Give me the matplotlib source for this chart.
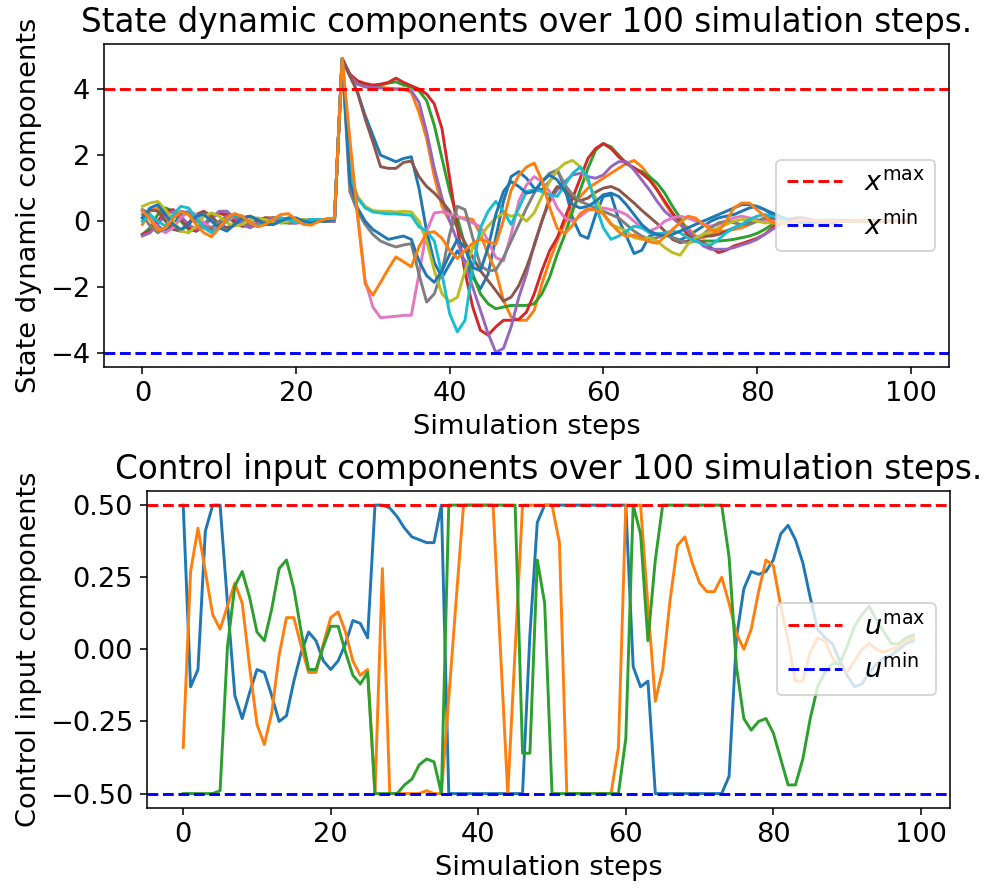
import matplotlib
matplotlib.use("Agg")
import matplotlib.pyplot as plt
import numpy as np

plt.rcParams["font.size"] = 14

# ---- state trajectories, steps 0..100 (settling part 0..25, then the kick at 26) ----
x_blue_a = [0.35, 0.2, -0.15, -0.3, -0.1, 0.2, 0.3, 0.1, -0.15, -0.25, -0.1, 0.1, 0.2, 0.1, -0.05, -0.15, -0.05, 0.1, 0.1, 0.0, -0.05, 0.0, 0.05, 0.05, 0.0, 0.0,
            4.92, 4.45, 3.9, 3.2, 2.6, 2.0, 1.9, 1.8, 1.9, 1.95,
            1.0, -0.3, -1.25, -1.7, -1.3, -0.9, -1.2, -1.7, -2.05, -1.6,
            -0.5, 0.6, 1.35, 1.5, 1.3, 1.0, 0.95, 1.2, 1.55, 1.0,
            0.1, -0.42, -0.52, 0.2, 0.75, 0.8, 0.05, -0.45, -0.98, -0.88,
            -0.45, -0.38, -0.4, -0.5, -0.57, -0.45, -0.3, -0.15, 0.0, 0.1,
            0.15, 0.2, 0.3, 0.4, 0.45, 0.35, 0.2, 0.1, 0.05, 0.0,
            -0.05, -0.05, 0.0, 0.03, 0.03, 0.0, 0.0, 0.0, 0.0, 0.0,
            0.0, 0.0, 0.0, 0.0, 0.0]
x_orange_a = [-0.1, 0.3, 0.4, 0.1, -0.2, -0.3, -0.1, 0.2, 0.3, 0.1, -0.1, -0.2, -0.1, 0.1, 0.15, 0.05, -0.1, -0.1, 0.0, 0.1, 0.05, -0.05, -0.05, 0.0, 0.05, 0.0,
              4.92, 4.4, 4.15, 4.07, 4.05, 4.05, 4.03, 4.0, 4.0, 3.9,
              3.3, 2.5, 1.35, 0.45, 0.0, 0.1, 0.1, 0.05, -0.4, -1.0,
              -1.5, -2.4, -2.9, -3.0, -3.0, -2.7, -1.9, -1.2, -0.6, -0.05,
              0.4, 0.75, 1.0, 1.15, 1.3, 1.45, 1.6, 1.75, 1.84, 1.65,
              1.35, 0.95, 0.55, 0.2, 0.0, -0.2, -0.45, -0.5, -0.4, -0.3,
              -0.3, -0.25, -0.2, -0.1, 0.0, 0.05, 0.05, 0.0, -0.03, -0.03,
              0.0, 0.02, 0.02, 0.0, 0.0, 0.0, 0.0, 0.0, 0.0, 0.0,
              0.0, 0.0, 0.0, 0.0, 0.0]
x_green = [-0.4, -0.2, 0.2, 0.4, 0.3, 0.0, -0.25, -0.3, -0.1, 0.15, 0.25, 0.15, -0.05, -0.15, -0.1, 0.05, 0.1, 0.05, -0.05, -0.05, 0.0, 0.05, 0.0, 0.0, 0.0, 0.05,
           4.92, 4.45, 4.22, 4.15, 4.1, 4.12, 4.18, 4.22, 4.12, 4.05,
           3.95, 3.65, 2.9, 1.9, 0.9, 0.1, -0.75, -1.6, -2.2, -2.5,
           -2.65, -2.6, -2.55, -2.55, -2.55, -2.5, -2.2, -1.7, -1.0, -0.4,
           0.3, 0.95, 1.6, 2.15, 2.35, 2.25, 2.0, 1.75, 1.6, 1.5,
           1.35, 1.15, 0.85, 0.45, 0.1, -0.4, -0.6, -0.6, -0.6, -0.6,
           -0.58, -0.55, -0.5, -0.45, -0.37, -0.25, -0.1, 0.0, 0.05, 0.05,
           0.05, 0.0, -0.03, -0.03, 0.0, 0.02, 0.02, 0.0, 0.0, 0.0,
           0.0, 0.0, 0.0, 0.0, 0.0]
x_red = [-0.4, -0.3, 0.0, 0.3, 0.35, 0.1, -0.2, -0.3, -0.15, 0.1, 0.25, 0.2, 0.0, -0.15, -0.15, 0.0, 0.1, 0.1, 0.0, -0.05, -0.05, 0.0, 0.05, 0.05, 0.0, 0.0,
         4.92, 4.45, 4.25, 4.17, 4.12, 4.15, 4.2, 4.33, 4.2, 4.1,
         4.0, 3.85, 3.55, 2.8, 1.3, -0.2, -1.55, -2.6, -3.3, -3.45,
         -3.2, -3.0, -3.0, -2.97, -2.75, -2.2, -1.5, -0.9, -0.5, 0.1,
         0.7, 1.3, 1.9, 2.2, 2.35, 2.2, 1.95, 1.75, 1.62, 1.45,
         1.25, 0.95, 0.6, 0.25, -0.05, -0.45, -0.55, -0.65, -0.8, -0.95,
         -0.88, -0.75, -0.68, -0.6, -0.52, -0.4, -0.2, -0.05, 0.05, 0.1,
         0.1, 0.05, 0.0, -0.05, -0.05, 0.0, 0.02, 0.03, 0.02, 0.0,
         0.0, 0.0, 0.0, 0.0, 0.0]
x_purple = [-0.45, -0.35, -0.1, 0.2, 0.3, 0.15, -0.1, -0.25, -0.15, 0.1, 0.3, 0.3, 0.1, -0.1, -0.2, -0.1, 0.05, 0.1, 0.05, -0.05, -0.05, 0.0, 0.05, 0.0, 0.0, 0.0,
            4.92, 4.4, 4.15, 4.07, 4.05, 4.03, 4.02, 4.0, 4.0, 3.95,
            3.6, 2.7, 1.6, 0.7, 0.0, -0.6, -1.3, -2.0, -2.7, -3.4,
            -3.97, -3.85, -3.2, -2.3, -1.6, -0.7, 0.0, 0.6, 0.95, 1.2,
            1.4, 1.45, 1.35, 1.3, 1.4, 1.65, 1.8, 1.8, 1.55, 1.25,
            0.95, 0.6, 0.3, 0.1, -0.1, -0.3, -0.5, -0.75, -0.85, -0.85,
            -0.85, -0.8, -0.72, -0.65, -0.55, -0.4, -0.25, -0.1, 0.0, 0.05,
            0.05, 0.05, 0.0, -0.03, -0.03, 0.0, 0.0, 0.02, 0.0, 0.0,
            0.0, 0.0, 0.0, 0.0, 0.0]
x_brown = [0.1, 0.35, 0.3, 0.0, -0.25, -0.3, -0.05, 0.2, 0.3, 0.15, -0.1, -0.2, -0.1, 0.1, 0.15, 0.05, -0.1, -0.1, 0.0, 0.05, 0.05, 0.0, -0.05, 0.0, 0.05, 0.0,
           4.92, 4.4, 3.9, 3.1, 2.4, 1.65, 1.6, 1.6, 1.78, 1.82,
           1.35, 1.05, 0.85, 0.6, 0.3, -0.2, -0.65, -1.1, -1.5, -1.8,
           -2.1, -2.42, -2.3, -1.95, -1.4, -0.75, 0.0, 0.7, 1.05, 0.95,
           0.7, 0.62, 0.7, 0.88, 1.0, 1.05, 0.95, 0.75, 0.55, 0.33,
           0.13, -0.07, -0.3, -0.55, -0.65, -0.6, -0.5, -0.45, -0.45, -0.4,
           -0.3, -0.2, -0.1, -0.05, 0.0, 0.05, 0.1, 0.05, 0.0, 0.0,
           0.0, 0.0, -0.02, -0.02, 0.0, 0.0, 0.0, 0.0, 0.0, 0.0,
           0.0, 0.0, 0.0, 0.0, 0.0]
x_pink = [0.3, 0.1, -0.2, -0.35, -0.2, 0.1, 0.3, 0.2, -0.05, -0.2, -0.2, 0.0, 0.15, 0.15, 0.0, -0.1, -0.1, 0.05, 0.1, 0.05, -0.05, -0.05, 0.0, 0.05, 0.0, 0.0,
          4.92, 2.2, 0.2, -1.8, -2.6, -2.92, -2.9, -2.88, -2.85, -2.85,
          -1.6, -0.3, 0.25, 0.28, 0.2, 0.15, 0.05, -0.05, -0.17, -0.6,
          -1.1, -1.2, -0.4, 0.6, 1.1, 1.35, 1.2, 0.9, 0.4, 0.1,
          0.0, 0.15, 0.33, 0.4, 0.4, 0.35, 0.3, 0.2, 0.0, -0.2,
          -0.3, -0.2, 0.0, 0.1, 0.15, 0.1, 0.0, -0.1, -0.15, -0.1,
          0.0, 0.1, 0.15, 0.1, 0.05, 0.0, 0.0, 0.0, 0.0, 0.0,
          0.0, 0.0, 0.0, 0.0, 0.0, 0.0, 0.0, 0.0, 0.0, 0.0,
          0.0, 0.0, 0.0, 0.0, 0.0]
x_gray = [0.2, -0.15, -0.35, -0.2, 0.1, 0.3, 0.25, 0.0, -0.2, -0.2, 0.0, 0.15, 0.15, 0.0, -0.1, -0.1, 0.0, 0.1, 0.05, -0.05, -0.05, 0.0, 0.05, 0.0, 0.0, 0.0,
          4.92, 0.9, 0.3, -0.1, -0.4, -0.6, -0.7, -0.78, -0.72, -0.68,
          -1.6, -2.45, -2.2, -1.5, -0.4, 0.45, 0.35, -0.5, -1.35, -1.5,
          -1.48, -1.1, -0.6, -0.1, 0.4, 0.85, 1.2, 1.45, 1.55, 1.1,
          0.8, 0.6, 0.5, 0.4, 0.3, 0.2, 0.1, -0.1, -0.3, -0.45,
          -0.55, -0.5, -0.4, -0.5, -0.6, -0.65, -0.6, -0.4, -0.2, -0.05,
          0.0, -0.05, -0.1, -0.1, 0.0, 0.1, 0.15, 0.1, 0.05, 0.0,
          0.0, 0.0, 0.0, 0.0, 0.0, 0.0, 0.0, 0.0, 0.0, 0.0,
          0.0, 0.0, 0.0, 0.0, 0.0]
x_olive = [0.45, 0.55, 0.6, 0.35, 0.0, -0.3, -0.35, -0.15, 0.15, 0.25, 0.15, -0.05, -0.15, -0.1, 0.05, 0.1, 0.05, -0.05, -0.05, 0.0, 0.05, 0.05, 0.0, 0.0, 0.0, 0.05,
           4.92, 1.45, 0.75, 0.45, 0.32, 0.3, 0.3, 0.28, 0.3, 0.28,
           0.0, -0.6, -1.5, -2.2, -2.44, -2.3, -1.5, -0.8, -0.45, -0.15,
           0.1, 0.25, 0.15, 0.2, 0.0, 0.25, 0.75, 1.2, 1.55, 1.75,
           1.84, 1.65, 1.2, 0.7, 0.2, -0.1, -0.2, -0.3, -0.5, -0.55,
           -0.5, -0.6, -0.8, -0.95, -1.03, -0.7, -0.5, -0.4, -0.3, -0.2,
           -0.1, 0.0, 0.05, 0.05, 0.0, -0.05, -0.05, 0.0, 0.0, 0.0,
           0.0, 0.0, 0.0, 0.0, 0.0, 0.0, 0.0, 0.0, 0.0, 0.0,
           0.0, 0.0, 0.0, 0.0, 0.0]
x_cyan = [0.0, 0.2, 0.0, -0.15, 0.2, 0.45, 0.4, 0.1, -0.2, -0.35, -0.2, 0.05, 0.2, 0.15, -0.05, -0.15, -0.1, 0.05, 0.1, 0.05, -0.05, 0.0, 0.05, 0.05, 0.05, 0.1,
          4.92, 1.5, 0.7, 0.4, 0.28, 0.25, 0.22, 0.22, 0.2, 0.18,
          -0.17, -0.3, -0.6, -1.6, -2.8, -3.35, -3.0, -1.4, -0.2, 0.3,
          0.6, 0.3, -0.1, 0.4, 0.9, 0.95, 0.9, 0.8, 0.75, 1.1,
          1.45, 1.64, 1.3, 0.5, -0.2, -0.55, -0.45, -0.3, -0.15, -0.2,
          -0.35, -0.4, -0.35, -0.3, -0.35, -0.5, -0.6, -0.7, -0.72, -0.55,
          -0.35, -0.2, -0.1, 0.05, 0.15, 0.2, 0.15, 0.1, 0.05, 0.0,
          0.0, 0.0, 0.0, 0.0, 0.0, 0.0, 0.0, 0.0, 0.0, 0.0,
          0.0, 0.0, 0.0, 0.0, 0.0]
x_blue_b = [0.1, 0.4, 0.5, 0.2, -0.1, -0.25, -0.1, 0.15, 0.2, 0.0, -0.2, -0.3, -0.1, 0.1, 0.15, 0.05, -0.1, -0.1, 0.0, 0.1, 0.1, 0.0, -0.05, 0.0, 0.0, 0.05,
            4.92, 1.2, 0.4, 0.0, -0.25, -0.4, -0.55, -0.5, -0.45, -0.55,
            -1.2, -1.65, -1.85, -1.5, -1.0, -0.55, -0.8, -1.4, -1.5, -0.8,
            0.2, 0.9, 1.2, 1.05, 0.85, 0.9, 1.2, 1.4, 1.25, 0.9,
            0.5, 0.4, 0.45, 0.6, 0.8, 0.85, 0.75, 0.5, 0.2, -0.1,
            -0.3, -0.4, -0.45, -0.4, -0.3, -0.2, -0.1, 0.0, 0.1, 0.2,
            0.3, 0.4, 0.5, 0.5, 0.45, 0.35, 0.25, 0.15, 0.05, 0.0,
            -0.05, -0.05, 0.0, 0.0, 0.02, 0.02, 0.0, 0.0, 0.0, 0.0,
            0.0, 0.0, 0.0, 0.0, 0.0]
x_orange_b = [0.33, 0.05, -0.27, -0.2, 0.1, 0.28, 0.2, -0.1, -0.35, -0.47, -0.2, 0.1, 0.23, 0.15, -0.05, -0.17, -0.1, 0.05, 0.2, 0.23, 0.05, -0.1, -0.12, 0.0, 0.08, 0.08,
              4.92, 2.5, 0.2, -1.9, -2.24, -1.85, -1.45, -1.08, -1.23, -1.38,
              -0.78, -0.35, -0.32, -0.52, -0.88, -1.13, -0.88, -0.67, -0.55, -0.62,
              -0.7, 0.03, 0.94, 1.39, 1.64, 1.76, 1.24, 0.43, -0.22, -0.37,
              -0.12, 0.23, 0.38, 0.33, 0.23, -0.07, -0.32, -0.47, -0.42, -0.52,
              -0.62, -0.67, -0.47, -0.25, -0.05, 0.15, 0.1, -0.1, -0.25, -0.3,
              0.0, 0.4, 0.55, 0.55, 0.35, 0.15, -0.05, -0.1, -0.05, 0.0,
              0.03, 0.03, 0.0, 0.0, 0.0, 0.0, 0.0, 0.0, 0.0, 0.0,
              0.0, 0.0, 0.0, 0.0, 0.0]

# ---- control inputs (steps 0..99) ----
u_blue = [0.5, -0.13, -0.07, 0.41, 0.5, 0.5, 0.16, -0.16, -0.24, -0.15, -0.07, -0.08, -0.16, -0.25, -0.23, -0.11, -0.01, 0.06, 0.03, -0.04,
          -0.07, -0.04, 0.02, 0.1, 0.09, 0.04, 0.5, 0.5, 0.49, 0.46, 0.42, 0.39, 0.38, 0.37, 0.37, 0.5, -0.5, -0.5, -0.5, -0.5,
          -0.5, -0.5, -0.5, -0.5, -0.5, -0.5, -0.5, 0.05, 0.44, 0.5, 0.5, 0.5, 0.5, 0.5, 0.5, 0.5, 0.5, 0.5, 0.5, 0.5,
          0.5, -0.06, -0.13, -0.11, -0.5, -0.5, -0.5, -0.5, -0.5, -0.5, -0.5, -0.5, -0.5, -0.5, -0.44, 0.04, 0.21, 0.27, 0.26, 0.27,
          0.31, 0.4, 0.43, 0.38, 0.3, 0.18, 0.07, 0.04, 0.02, -0.04, -0.09, -0.13, -0.12, -0.08, -0.05, -0.03, -0.02, 0.0, 0.02, 0.03]
u_orange = [-0.34, 0.27, 0.42, 0.27, 0.12, 0.07, 0.15, 0.23, 0.16, -0.06, -0.26, -0.33, -0.22, -0.02, 0.11, 0.11, 0.01, -0.08, -0.08, 0.02,
            0.11, 0.13, 0.06, -0.04, -0.09, -0.07, -0.5, 0.28, -0.5, -0.5, -0.5, -0.5, -0.5, -0.49, -0.5, -0.5, -0.17, 0.17, 0.5, 0.5,
            0.5, 0.5, 0.5, 0.0, -0.5, 0.0, 0.5, 0.5, 0.5, 0.5, 0.5, 0.37, -0.5, -0.5, -0.5, -0.5, -0.5, -0.5, -0.5, -0.34,
            0.5, 0.5, 0.5, 0.15, -0.18, -0.07, 0.17, 0.36, 0.39, 0.3, 0.23, 0.2, 0.2, 0.25, 0.16, 0.055, 0.0, 0.07, 0.2, 0.31,
            0.29, 0.15, 0.03, -0.11, -0.11, -0.01, 0.04, 0.03, -0.03, -0.06, -0.08, -0.04, 0.0, 0.02, 0.0, -0.01, 0.0, 0.01, 0.03, 0.04]
u_green = [-0.5, -0.5, -0.5, -0.5, -0.5, -0.49, 0.01, 0.22, 0.27, 0.18, 0.06, 0.03, 0.14, 0.28, 0.31, 0.21, 0.06, -0.07, -0.07, 0.01,
           0.08, 0.08, -0.01, -0.09, -0.12, -0.08, -0.5, -0.5, -0.5, -0.5, -0.47, -0.45, -0.4, -0.38, -0.39, -0.5, 0.5, 0.5, 0.5, 0.5,
           0.5, 0.5, 0.5, 0.5, 0.5, 0.5, -0.36, -0.36, 0.31, 0.16, -0.5, -0.5, -0.5, -0.5, -0.5, -0.5, -0.5, -0.5, -0.5, -0.5,
           -0.31, 0.5, 0.4, 0.03, 0.31, 0.5, 0.5, 0.5, 0.5, 0.5, 0.5, 0.5, 0.5, 0.5, 0.32, -0.06, -0.24, -0.28, -0.25, -0.24,
           -0.29, -0.38, -0.47, -0.47, -0.38, -0.24, -0.13, -0.08, -0.05, -0.05, 0.01, 0.08, 0.12, 0.15, 0.1, 0.06, 0.02, 0.02, 0.04, 0.05]

x_max, x_min = 4.0, -4.0
u_max, u_min = 0.5, -0.5

states = [x_blue_a, x_orange_a, x_green, x_red, x_purple, x_brown,
          x_pink, x_gray, x_olive, x_cyan, x_blue_b, x_orange_b]
inputs = [u_blue, u_orange, u_green]

W, H, DPI = 984, 888, 140
fig = plt.figure(figsize=(W / DPI, H / DPI), dpi=DPI)


def frac(left, top, right, bottom):
    return [left / W, 1 - bottom / H, (right - left) / W, (bottom - top) / H]


ax1 = fig.add_axes(frac(104, 44, 949, 367))
ax2 = fig.add_axes(frac(146.7, 490.7, 950, 808))

steps_x = np.arange(len(x_blue_a))
for s in states:
    ax1.plot(steps_x, s)
ax1.axhline(x_max, color="red", linestyle="--", label=r"$x^{\max}$")
ax1.axhline(x_min, color="blue", linestyle="--", label=r"$x^{\min}$")
ax1.set_title("State dynamic components over 100 simulation steps.")
ax1.set_xlabel("Simulation steps")
ax1.set_ylabel("State dynamic components")
ax1.legend(loc="center right")

steps_u = np.arange(len(u_blue))
for u in inputs:
    ax2.plot(steps_u, u)
ax2.axhline(u_max, color="red", linestyle="--", label=r"$u^{\max}$")
ax2.axhline(u_min, color="blue", linestyle="--", label=r"$u^{\min}$")
ax2.set_title("Control input components over 100 simulation steps.")
ax2.set_xlabel("Simulation steps")
ax2.set_ylabel("Control input components")
ax2.legend(loc="center right")

fig.savefig("out.png", dpi=DPI)
